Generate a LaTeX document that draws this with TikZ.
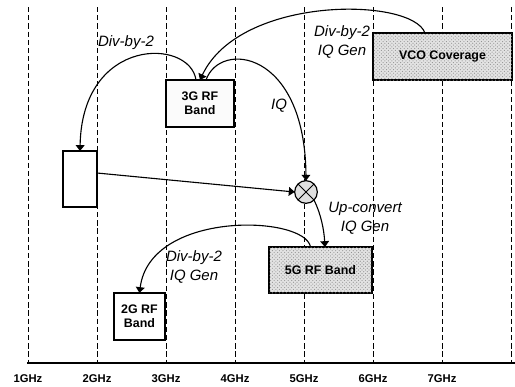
\documentclass[tikz,border=0pt]{standalone}
\usepackage{fontspec}
\setmainfont{Liberation Sans}
\usetikzlibrary{arrows.meta,patterns}
\begin{document}
\begin{tikzpicture}[x=0.03cm,y=-0.03cm,
  grid/.style={line width=0.6pt,dash pattern=on 4.5pt off 2.5pt},
  band/.style={draw,line width=1pt,inner sep=0pt,outer sep=0pt,align=center,
    font=\fontsize{10.6}{12}\selectfont\bfseries},
  dotted band/.style={band,fill=gray!22,postaction={pattern=crosshatch dots,pattern color=gray!85}},
  link/.style={line width=0.95pt,-{Triangle[width=7.5pt,length=5pt]}},
  lbl/.style={align=center,font=\fontsize{12.8}{16}\selectfont\itshape},
  ghz/.style={font=\fontsize{9.6}{11}\selectfont\bfseries}]
\useasboundingbox (0,0) rectangle (515,386);
% frequency grid
\foreach \i in {0,...,7}
  \draw[grid] ({28+69*\i},7) -- ({28+69*\i},363);
\foreach \i in {0,...,6}
  \node[ghz] (f\i) at ({28+69*\i},379) {\the\numexpr\i+1\relax GHz};
\draw[line width=1.4pt] (27,363) -- (515,363);
% bands
\node[band,fill=gray!3,minimum width=2.04cm,minimum height=1.41cm] (band3g) at (200,103.5) {3G RF\\Band};
\node[band,fill=white,minimum width=1.02cm,minimum height=1.68cm] (blank) at (80,179) {};
\node[dotted band,minimum width=4.17cm,minimum height=1.41cm] (vco) at (442.5,56.5) {VCO Coverage};
\node[dotted band,minimum width=3.09cm,minimum height=1.38cm] (band5g) at (320.5,270) {5G RF Band};
\node[band,fill=white,minimum width=1.53cm,minimum height=1.41cm] (band2g) at (139.5,316.5) {2G RF\\Band};
% mixer
\node[circle,draw,line width=1pt,fill=gray!25,minimum size=0.68cm,inner sep=0pt,outer sep=0pt] (mix) at (306,192) {};
\draw[line width=0.8pt] (mix.north west) -- (mix.south east);
\draw[line width=0.8pt] (mix.north east) -- (mix.south west);
% dividers and paths
\draw[link] ([xshift=-0.525cm]vco.north) .. controls (412,-3) and (240,-5) .. (band3g.north);
\draw[link] ([xshift=-0.12cm]band3g.north) .. controls (190,38) and (82,36) .. (blank.north);
\draw[link] ([xshift=0.18cm]band3g.north) .. controls (220,40) and (305,50) .. (mix.north);
\draw[link] ([yshift=0.18cm]blank.east) -- (mix.west);
\draw[link] (mix.south east) .. controls (321,214) and (324,230) .. ([xshift=0.135cm]band5g.north);
\draw[link] ([xshift=-0.3cm]band5g.north) .. controls (305,215) and (150,210) .. (band2g.north);
% labels
\node[lbl] (divA) at (126,43) {Div-by-2};
\node[lbl] (divB) at (342,42) {Div-by-2\\IQ Gen};
\node[lbl] (iq) at (279,106) {IQ};
\node[lbl] (upc) at (365,218) {Up-convert\\IQ Gen};
\node[lbl] (divC) at (194,267) {Div-by-2\\IQ Gen};
\end{tikzpicture}
\end{document}
